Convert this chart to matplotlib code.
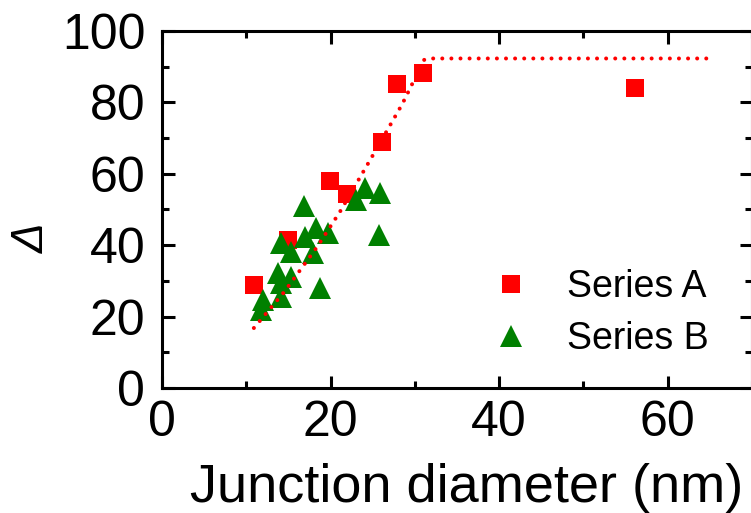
import matplotlib
matplotlib.use("Agg")
import matplotlib.pyplot as plt
from matplotlib.ticker import MultipleLocator

plt.rcParams['font.family'] = ['Liberation Sans', 'DejaVu Sans']

# Series A (red squares)
diam_a = [10.9, 15.0, 19.9, 21.9, 26.1, 27.9, 31.0, 56.1]
delta_a = [28.9, 41.5, 58.0, 54.3, 68.9, 85.1, 88.2, 84.0]

# Series B (green triangles)
diam_b = [16.9, 18.3, 19.7, 17.0, 14.1, 17.9, 15.3, 13.8, 15.3, 14.1,
          18.7, 12.0, 14.1, 11.7, 24.1, 25.9, 23.0, 25.7]
delta_b = [51.0, 44.8, 43.4, 42.3, 40.6, 37.8, 38.1, 32.2, 31.1, 29.4,
           28.0, 24.6, 25.5, 21.8, 56.0, 54.6, 52.7, 42.9]

# guide curve (dotted)
guide_x = [10.9, 14.5, 18.4, 21.1, 24.9, 28.5, 31.1, 32.0, 65.0]
guide_y = [16.8, 26.9, 39.5, 49.3, 64.7, 79.5, 91.9, 92.3, 92.3]

fig = plt.figure(figsize=(7.51, 5.13), dpi=100)
ax = fig.add_axes([0.2157, 0.2437, 0.7856, 0.6959])

ax.plot(diam_a, delta_a, 's', color='#ff0000', ms=13, mew=0, label='Series A', zorder=2)
ax.plot(diam_b, delta_b, '^', color='#008000', ms=16, mew=0, label='Series B', zorder=3)
ax.plot(guide_x, guide_y, color='#ff0000', lw=2.9, linestyle=(0, (0.01, 2.25)),
        dash_capstyle='round', zorder=4)

ax.set_xlim(0, 70)
ax.set_ylim(0, 100)
ax.xaxis.set_major_locator(MultipleLocator(20))
ax.xaxis.set_minor_locator(MultipleLocator(10))
ax.yaxis.set_major_locator(MultipleLocator(20))
ax.yaxis.set_minor_locator(MultipleLocator(10))

for s in ax.spines.values():
    s.set_linewidth(2.2)
ax.tick_params(which='both', direction='in', top=True, right=True, width=2.2, labelsize=36)
ax.tick_params(which='major', length=9, pad=9)
ax.tick_params(which='minor', length=5)
ax.tick_params(axis='y', which='major', pad=12)

ax.set_xlabel('Junction diameter (nm)', fontsize=39)
ax.xaxis.set_label_coords(0.517, -0.21)
ax.set_ylabel('Δ', fontsize=32, fontstyle='italic')
ax.yaxis.set_label_coords(-0.185, 0.42)

ax.legend(loc='lower right', bbox_to_anchor=(0.952, 0.045), frameon=False, fontsize=27,
          handlelength=1.0, handletextpad=1.0, labelspacing=0.42, borderaxespad=0)

fig.savefig('out.png', dpi=100)
